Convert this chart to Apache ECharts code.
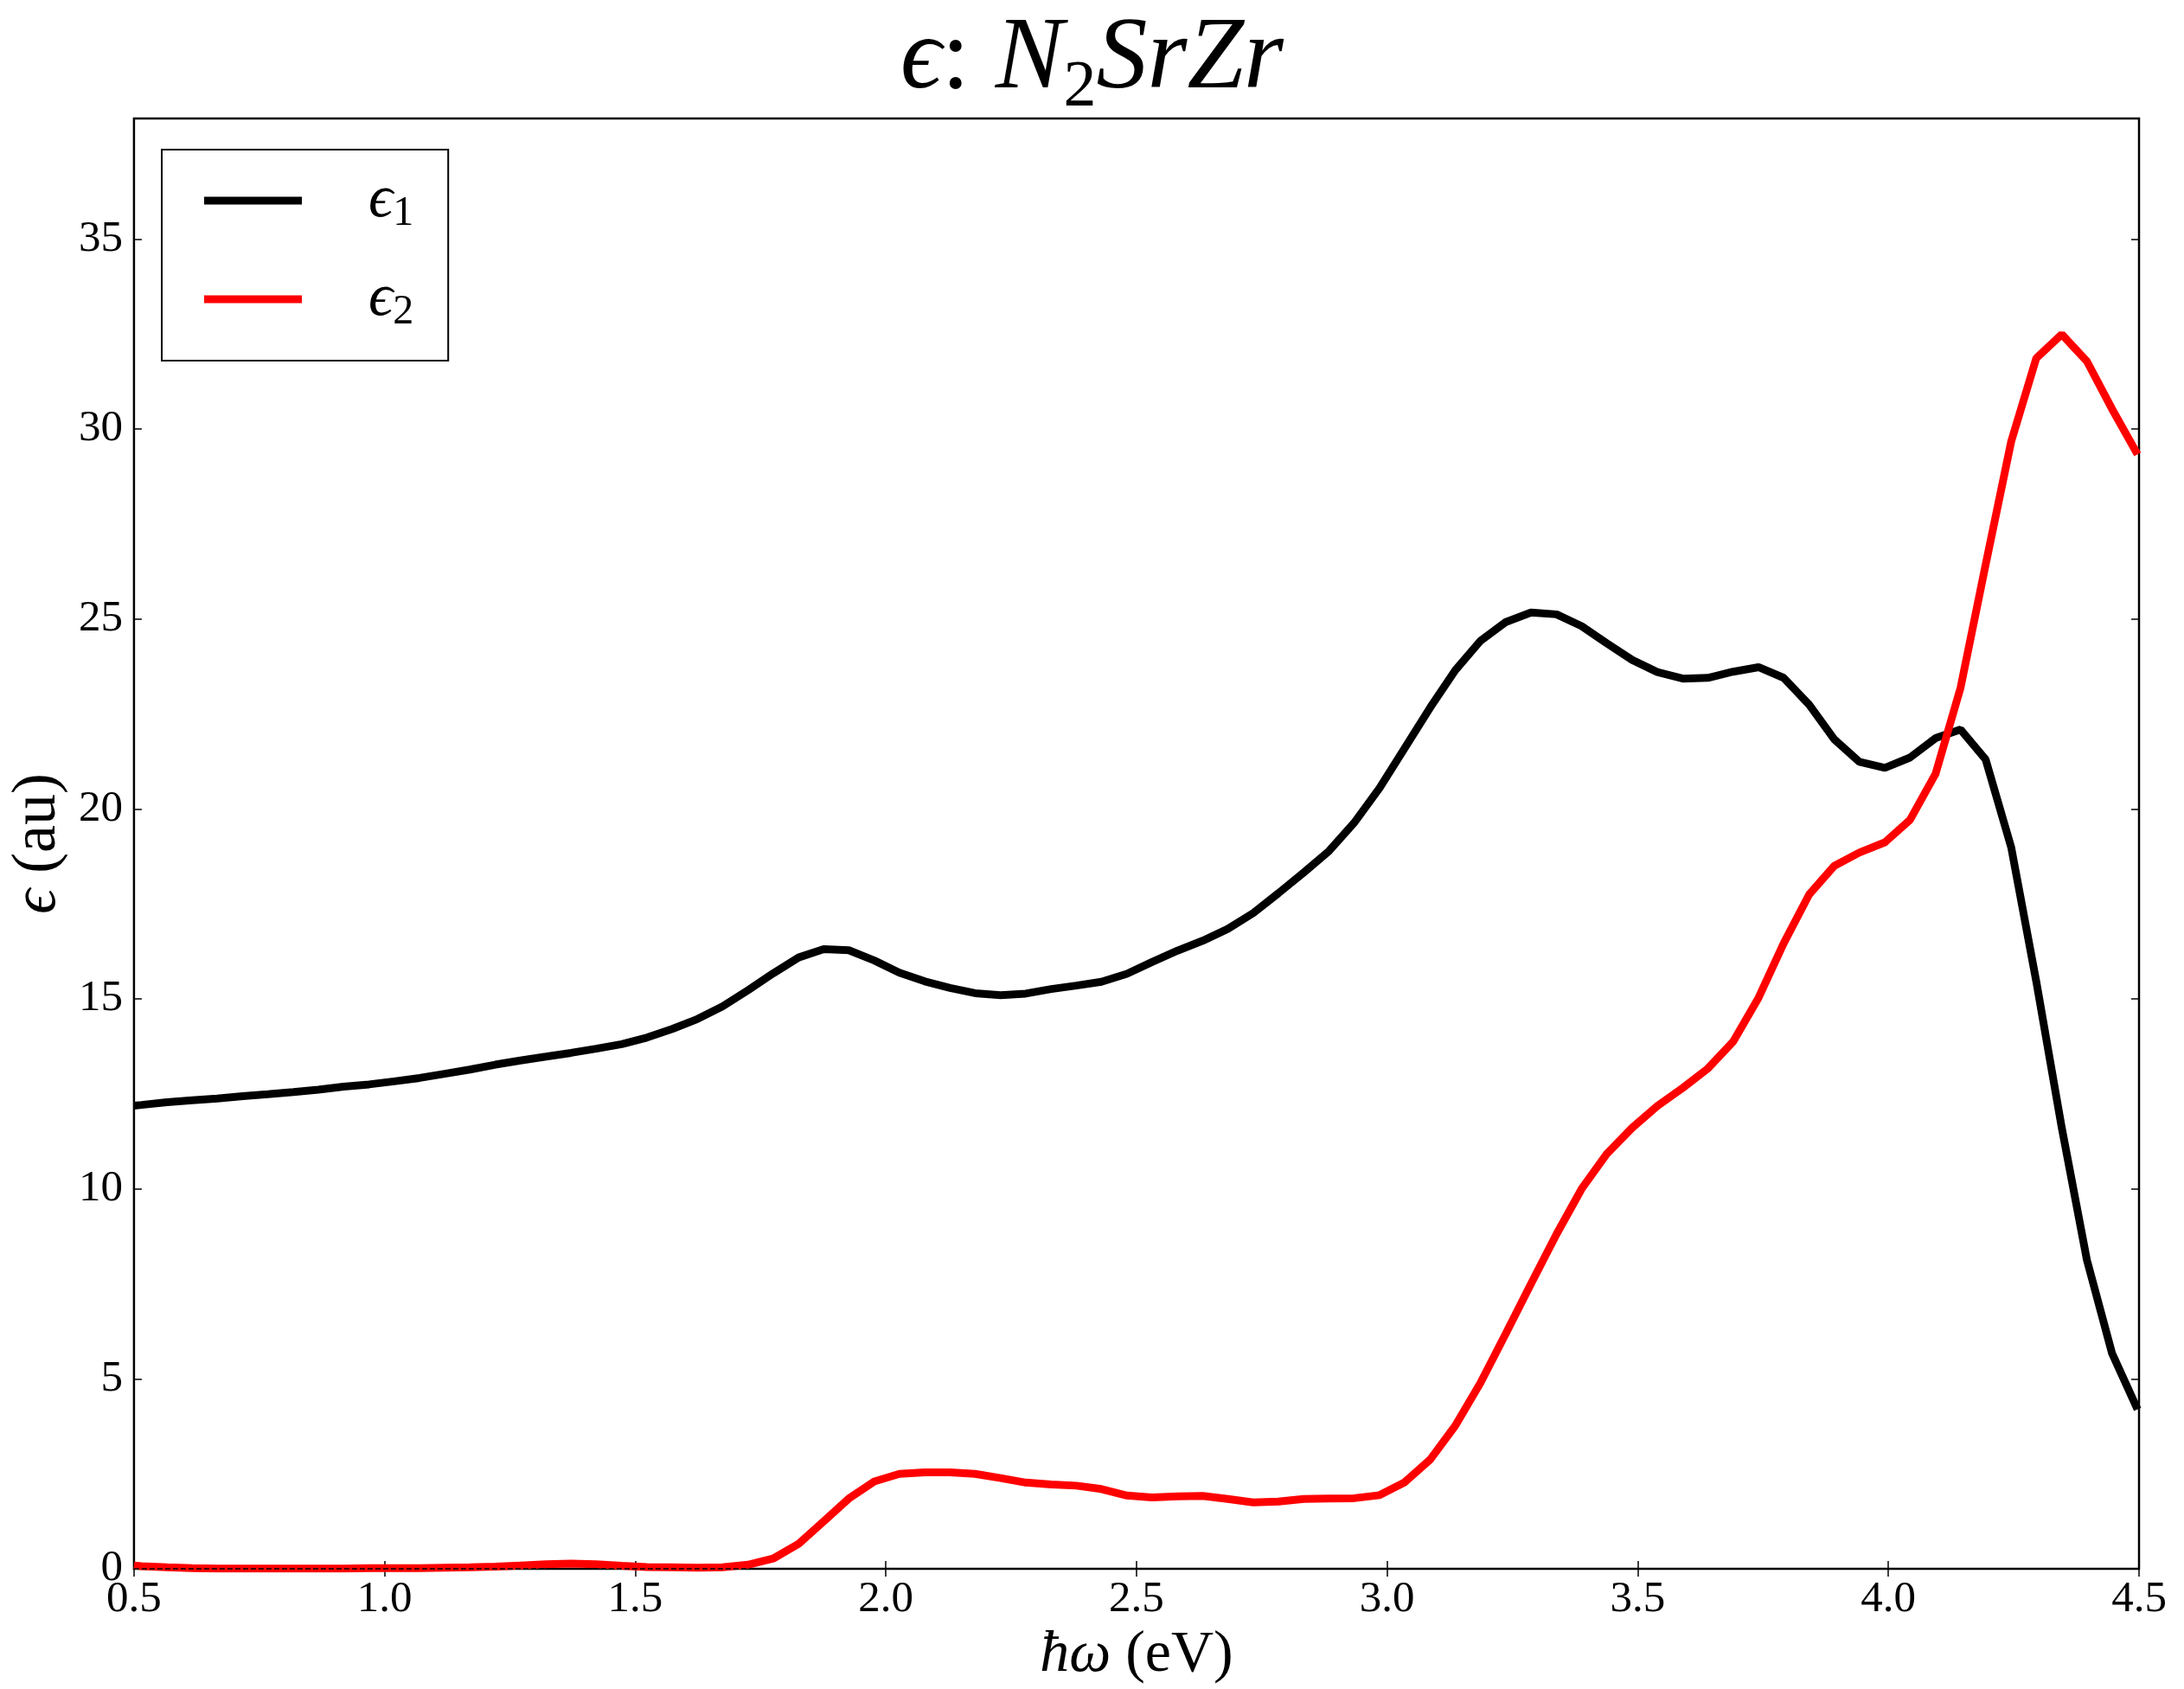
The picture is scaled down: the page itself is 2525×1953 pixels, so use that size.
<!DOCTYPE html>
<html>
<head>
<meta charset="utf-8">
<script src="https://cdn.jsdelivr.net/npm/echarts@6/dist/echarts.min.js"></script>
<style>
  html, body { margin: 0; padding: 0; background: #fff; }
  #chart { width: 2525px; height: 1953px; }
</style>
</head>
<body>
<div id="chart"></div>
<script>
// photon energy (eV)
const energy = [
  0.500, 0.515, 0.566, 0.616, 0.666, 0.717, 0.767, 0.818, 0.868, 0.918, 0.969,
  1.019, 1.070, 1.120, 1.170, 1.221, 1.271, 1.322, 1.372, 1.422, 1.473,
  1.523, 1.574, 1.624, 1.674, 1.725, 1.775, 1.826, 1.876, 1.926, 1.977,
  2.027, 2.078, 2.128, 2.178, 2.229, 2.279, 2.330, 2.380, 2.430, 2.481,
  2.531, 2.582, 2.632, 2.682, 2.733, 2.783, 2.834, 2.884, 2.934, 2.985,
  3.035, 3.086, 3.136, 3.186, 3.237, 3.287, 3.338, 3.388, 3.438, 3.489,
  3.539, 3.590, 3.640, 3.690, 3.741, 3.791, 3.842, 3.892, 3.942, 3.993,
  4.043, 4.094, 4.144, 4.194, 4.245, 4.295, 4.346, 4.396, 4.446, 4.497
]

// real part
const eps1 = [
  12.19, 12.21, 12.28, 12.33, 12.38, 12.44, 12.49, 12.55, 12.61, 12.69, 12.75,
  12.83, 12.92, 13.03, 13.14, 13.27, 13.38, 13.48, 13.58, 13.69, 13.81,
  13.98, 14.21, 14.47, 14.80, 15.23, 15.67, 16.09, 16.31, 16.28, 16.01,
  15.69, 15.46, 15.29, 15.15, 15.10, 15.14, 15.26, 15.35, 15.45, 15.66,
  15.97, 16.27, 16.53, 16.84, 17.26, 17.78, 18.33, 18.89, 19.63, 20.55,
  21.60, 22.67, 23.65, 24.42, 24.92, 25.17, 25.12, 24.81, 24.36, 23.92,
  23.60, 23.43, 23.45, 23.61, 23.73, 23.45, 22.74, 21.83, 21.24, 21.08,
  21.35, 21.86, 22.09, 21.30, 18.99, 15.46, 11.60, 8.13, 5.68, 4.20
]

// imaginary part
const eps2 = [
  0.09, 0.07, 0.04, 0.02, 0.01, 0.01, 0.01, 0.01, 0.01, 0.01, 0.02,
  0.02, 0.02, 0.03, 0.04, 0.06, 0.09, 0.12, 0.14, 0.12, 0.08,
  0.05, 0.04, 0.03, 0.04, 0.11, 0.27, 0.66, 1.25, 1.85, 2.30,
  2.50, 2.54, 2.54, 2.50, 2.39, 2.27, 2.22, 2.19, 2.10, 1.93,
  1.88, 1.91, 1.92, 1.84, 1.75, 1.77, 1.84, 1.85, 1.86, 1.94,
  2.28, 2.88, 3.77, 4.89, 6.20, 7.50, 8.81, 10.00, 10.92, 11.61,
  12.18, 12.66, 13.17, 13.87, 15.03, 16.46, 17.75, 18.50, 18.85, 19.12,
  19.71, 20.92, 23.19, 26.43, 29.67, 31.86, 32.49, 31.78, 30.53, 29.33
]

const seriesNames = ['eps1', 'eps2']
const legendLabels = ['{g|}{e|ϵ}{s|1}', '{g|}{e|ϵ}{s|2}']

const serif = "'Liberation Serif', 'DejaVu Serif', serif"
const black = '#000'

const tick = { inside: true, length: 9, lineStyle: { color: black, width: 1.5 } }

const chart = echarts.init(document.getElementById('chart'))

const option = {
  animation: false,
  backgroundColor: '#fff',
  title: {
    text: '{m|ϵ}{c|: }{m|N}{s|2}{m|SrZr}',
    left: 'center',
    top: 0,
    padding: [0, 0, 0, 20],
    textStyle: {
      fontWeight: 'normal',
      rich: {
        m: { fontSize: 118, fontFamily: serif, fontStyle: 'italic', fontWeight: 'normal', color: black },
        c: { fontSize: 118, fontFamily: serif, fontWeight: 'normal', color: black },
        s: { fontSize: 76, fontFamily: serif, fontWeight: 'normal', color: black, padding: [64, 0, 0, 0] }
      }
    }
  },
  legend: {
    data: seriesNames,
    orient: 'vertical',
    left: 187,
    top: 173,
    icon: 'rect',
    itemWidth: 113,
    itemHeight: 9,
    itemGap: 40,
    padding: [24, 40, 32, 49],
    borderColor: black,
    borderWidth: 2,
    formatter: (name) => legendLabels[seriesNames.indexOf(name)],
    textStyle: {
      rich: {
        g: { width: 72 },
        e: { fontSize: 70, fontFamily: serif, fontStyle: 'italic', color: black, lineHeight: 80 },
        s: { fontSize: 48, fontFamily: serif, color: black, padding: [30, 0, 0, 0] }
      }
    }
  },
  grid: {
    left: 150,
    right: 52,
    top: 137,
    bottom: 138,
    show: true,
    borderColor: black,
    borderWidth: 2.5
  },
  xAxis: [
    {
      type: 'value',
      min: 0.5,
      max: 4.5,
      interval: 0.5,
      position: 'bottom',
      axisLine: { show: false },
      axisTick: tick,
      splitLine: { show: false },
      axisLabel: {
        formatter: (v) => v.toFixed(1),
        fontSize: 51,
        fontFamily: serif,
        color: black,
        margin: 10
      },
      name: '{m|ħω} (eV)',
      nameLocation: 'middle',
      nameGap: 56,
      nameTextStyle: {
        fontSize: 68,
        fontFamily: serif,
        color: black,
        rich: { m: { fontSize: 68, fontFamily: serif, fontStyle: 'italic', color: black } }
      }
    },
    {
      type: 'value',
      min: 0.5,
      max: 4.5,
      interval: 0.5,
      position: 'top',
      axisLine: { show: false },
      axisTick: tick,
      axisLabel: { show: false },
      splitLine: { show: false }
    }
  ],
  yAxis: [
    {
      type: 'value',
      min: 0,
      max: 38.17,
      interval: 5,
      position: 'left',
      axisLine: { show: false },
      axisTick: tick,
      splitLine: { show: false },
      axisLabel: {
        showMaxLabel: false,
        fontSize: 51,
        fontFamily: serif,
        color: black,
        margin: 13
      },
      name: '{m|ϵ} (au)',
      nameLocation: 'middle',
      nameGap: 64,
      nameTextStyle: {
        fontSize: 72,
        fontFamily: serif,
        color: black,
        rich: { m: { fontSize: 72, fontFamily: serif, fontStyle: 'italic', color: black } }
      }
    },
    {
      type: 'value',
      min: 0,
      max: 38.17,
      interval: 5,
      position: 'right',
      axisLine: { show: false },
      axisTick: tick,
      axisLabel: { show: false },
      splitLine: { show: false }
    }
  ],
  series: [
    {
      name: 'eps1',
      type: 'line',
      data: energy.map((e, i) => [e, eps1[i]]),
      showSymbol: false,
      symbol: 'none',
      clip: true,
      lineStyle: { color: black, width: 9 },
      itemStyle: { color: black },
      markLine: {
        silent: true,
        symbol: 'none',
        label: { show: false },
        lineStyle: { type: 'dashed', color: black, width: 1.5 },
        data: [{ yAxis: 0 }]
      }
    },
    {
      name: 'eps2',
      type: 'line',
      data: energy.map((e, i) => [e, eps2[i]]),
      showSymbol: false,
      symbol: 'none',
      clip: true,
      lineStyle: { color: '#ff0000', width: 9 },
      itemStyle: { color: '#ff0000' }
    }
  ]
}

chart.setOption(option)
</script>
</body>
</html>
